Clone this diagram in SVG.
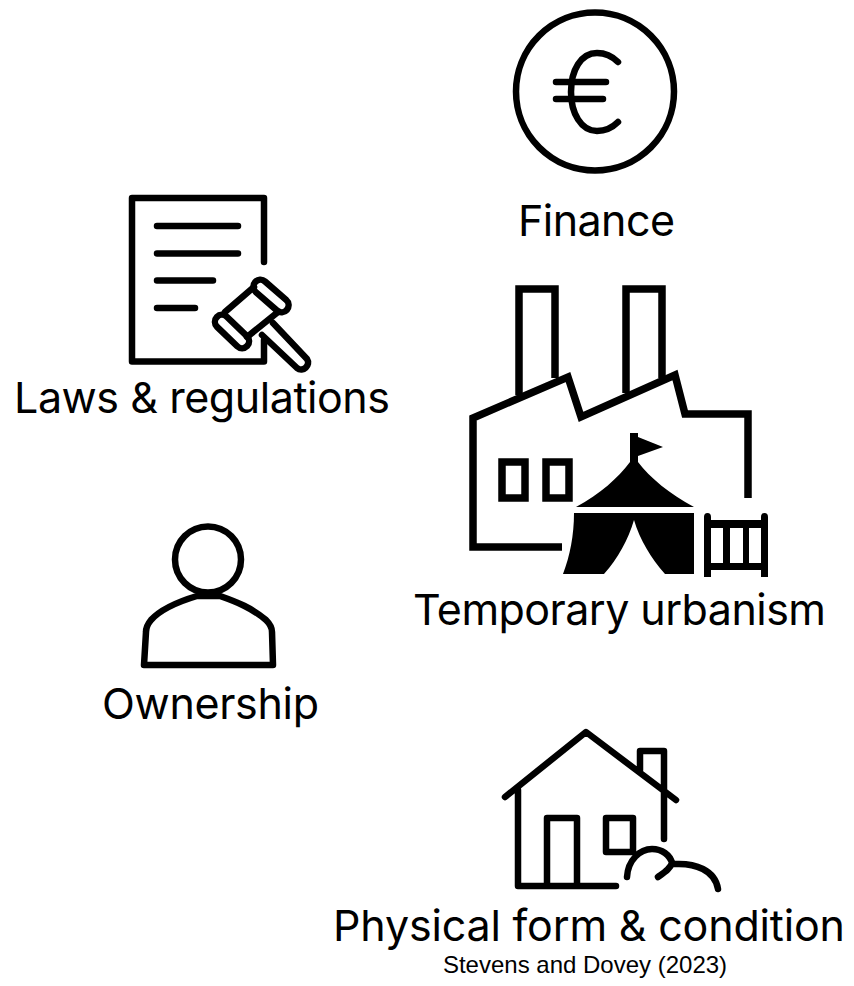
<svg xmlns="http://www.w3.org/2000/svg" width="854" height="986" viewBox="0 0 854 986">
<style>
.l{fill:none;stroke:#000;stroke-width:6.500;stroke-linecap:round;stroke-linejoin:round}
.t{fill:none;stroke:#000;stroke-width:7.500;stroke-linejoin:miter}
.f{fill:#000}
text{font-family:Inter,"Liberation Sans",sans-serif;font-size:43px;fill:#000;text-anchor:middle}
</style>
<rect width="854" height="986" fill="#fff"/>
<g id="finance">
<circle class="l" cx="595" cy="91.500" r="79"/>
<path class="l" d="M618 62C612 56 604 53 597 53C581 53 571 70 571 92C571 113 581 131 597 131C605 131 612 128 618 122M556 82H606M556 99H603"/>
<text x="596.500" y="236" textLength="157">Finance</text>
</g>
<g id="laws">
<path class="l" d="M264 262V198H132V361.500H264V340M157 226H238M157 253.500H238M157 280.500H213M157 308H195"/>
<g transform="rotate(41 271 296)"><rect class="l" x="250" y="289" width="42" height="14" rx="7"/></g>
<g transform="rotate(44 232 331.500)"><rect class="l" x="211" y="324.500" width="42" height="14" rx="7"/></g>
<path class="l" d="M225 312L254 287M247 337L278 312"/>
<path class="l" d="M262 335L297 368C303 373 311 365 307 359L273 323"/>
<text x="202" y="413" textLength="376">Laws &amp; regulations</text>
</g>
<g id="temporary-urbanism">
<path class="t" d="M519 395V289H555V378M626 393V289H662V378"/>
<path class="t" d="M562 547H473V418L568 377L581 417L675 375L685 414H748V498"/>
<rect class="t" x="502" y="462" width="23" height="36"/>
<rect class="t" x="546" y="462" width="23" height="36"/>
<path class="f" d="M630 433H638V437L663 447L638 456V462C650 478 670 494 694 507H576C600 494 618 478 630 462Z"/>
<path class="f" d="M574 513H694V574H665C651 558 640 540 634 520C628 540 618 558 604 574H563C570 556 574 535 574 513Z"/>
<path class="f" d="M704 517Q704 513 707.500 513Q711 513 711 517V520H761V517Q761 513 764.500 513Q768 513 768 517V577H761V570H711V577H704ZM711 528V563H723V528ZM730 528V563H743V528ZM749 528V563H761V528Z" fill-rule="evenodd"/>
<text x="619.500" y="625" textLength="413">Temporary urbanism</text>
</g>
<g id="ownership">
<circle class="l" cx="208" cy="559.500" r="33"/>
<path class="l" d="M197 596C177 602 160 610 151 620Q146 626 146 632L144 665H273L272 632Q272 626 266 620C252 608 237 602 220 596Z"/>
<text x="210.500" y="719" textLength="217">Ownership</text>
</g>
<g id="physical-form">
<path class="l" d="M505 797L586 732L676 800M518 790V886H616M547 886V818H577V886M606 818H633V852H606ZM640 770V751H664V839"/>
<path class="l" d="M627 877C628 860 640 849 652 849C662 849 670 855 672 863C670 869 665 872 658 877M675 864C695 863 715 870 718 889"/>
<text x="589" y="941" textLength="512">Physical form &amp; condition</text>
</g>
<g id="source">
<text x="585" y="973" style="font-family:'Liberation Sans',sans-serif;font-size:24px">Stevens and Dovey (2023)</text>
</g>
</svg>
